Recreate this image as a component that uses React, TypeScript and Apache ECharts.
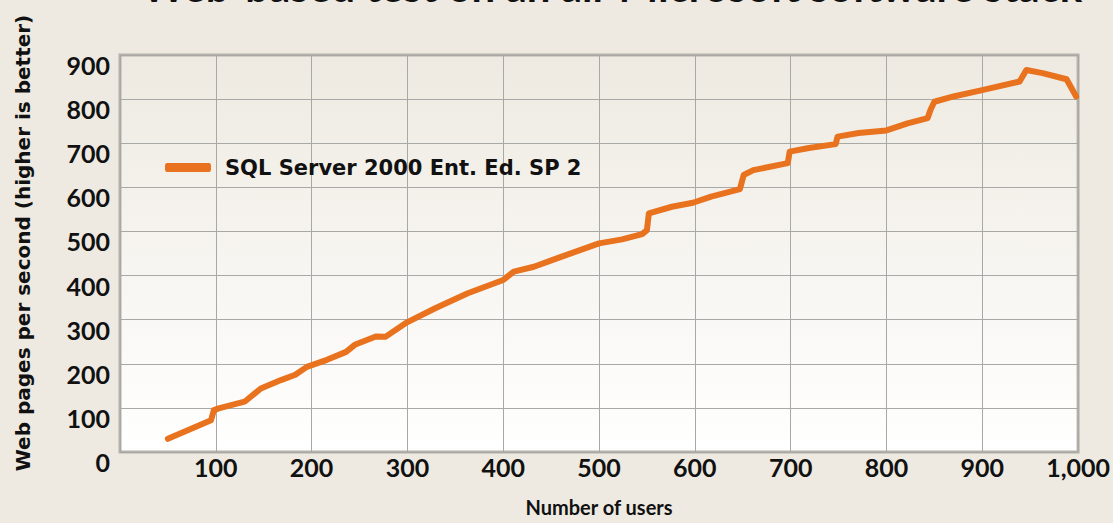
import React, { useEffect, useRef } from "react";
import * as echarts from "echarts";

const titleText = "Web-based test on an all-Microsoft software stack";
const seriesName = "SQL Server 2000 Ent. Ed. SP 2";
const yAxisTitle = "Web pages per second (higher is better)";
const xAxisTitle = "Number of users";

const users = [
  50, 95, 98, 103, 130, 147, 168, 183, 195, 216, 236, 245, 267, 277, 298, 329,
  363, 400, 411, 432, 456, 500, 524, 545, 550, 552, 576, 598, 617, 647, 651,
  661, 697, 699, 719, 747, 749, 771, 800, 822, 843, 846, 850, 870, 901, 939,
  946, 963, 988, 998,
];
const pagesPerSecond = [
  30, 72, 95, 99, 114, 144, 163, 175, 193, 209, 227, 243, 262, 261, 292, 326,
  360, 390, 409, 420, 439, 473, 482, 494, 503, 541, 556, 565, 579, 596, 628,
  639, 655, 681, 689, 698, 715, 723, 729, 745, 757, 776, 794, 806, 821, 840,
  866, 859, 845, 806,
];
const xTickLabels: Record<number, string> = {
  100: "100", 200: "200", 300: "300", 400: "400", 500: "500",
  600: "600", 700: "700", 800: "800", 900: "900", 1000: "1,000",
};

const FONT = "Lato, 'Liberation Sans', sans-serif";
const WIDE = "'DejaVu Sans', sans-serif";
const ORANGE = "#E8721E";

export default function App() {
  const ref = useRef<HTMLDivElement>(null);
  useEffect(() => {
    if (!ref.current) return;
    const chart = echarts.init(ref.current, null, { renderer: "svg" });
    const data = users.map((u, i) => [u, pagesPerSecond[i]]);
    chart.setOption({
      animation: false,
      backgroundColor: "#EEEAE1",
      textStyle: { fontFamily: FONT },
      grid: {
        left: 120,
        right: 20,
        top: 55,
        bottom: 71,
        show: true,
        borderWidth: 3,
        borderColor: "#B6B2AB",
        backgroundColor: {
          type: "linear", x: 0, y: 0, x2: 0, y2: 1,
          colorStops: [
            { offset: 0, color: "#EEEAE1" },
            { offset: 1, color: "#FFFFFF" },
          ],
        },
      },
      legend: {
        left: 160,
        top: 152,
        icon: "roundRect",
        itemWidth: 46,
        itemHeight: 9,
        itemGap: 10,
        textStyle: {
          fontFamily: WIDE,
          fontWeight: "bold",
          fontSize: 21,
          color: "#111",
          padding: [0, 0, 0, 9],
        },
        data: [seriesName],
      },
      graphic: [
        {
          type: "text",
          x: 612,
          y: -35,
          style: {
            text: titleText,
            fontFamily: FONT,
            fontWeight: "bold",
            fontSize: 42,
            fill: "#111",
            align: "center",
            verticalAlign: "top",
          },
        },
        {
          type: "text",
          x: 23,
          y: 243,
          rotation: Math.PI / 2,
          style: {
            text: yAxisTitle,
            fontFamily: WIDE,
            fontWeight: "bold",
            fontSize: 20,
            fill: "#111",
            align: "center",
            verticalAlign: "middle",
          },
        },
      ],
      xAxis: {
        type: "value",
        min: 0,
        max: 1000,
        interval: 100,
        name: xAxisTitle,
        nameLocation: "middle",
        nameGap: 45,
        nameTextStyle: { fontFamily: FONT, fontWeight: "bold", fontSize: 20, color: "#111" },
        axisLine: { show: false },
        axisTick: { show: false },
        axisLabel: {
          showMinLabel: false,
          margin: 2,
          fontFamily: FONT,
          fontWeight: "bold",
          fontSize: 25,
          color: "#111",
          formatter: (v: number) => xTickLabels[v] ?? "",
        },
        splitLine: { show: true, lineStyle: { color: "#A8A8A6", width: 1 } },
      },
      yAxis: {
        type: "value",
        min: 0,
        max: 900,
        interval: 100,
        axisLine: { show: false },
        axisTick: { show: false },
        axisLabel: {
          margin: 10,
          fontFamily: FONT,
          fontWeight: "bold",
          fontSize: 25,
          color: "#111",
          verticalAlign: "top",
          lineHeight: 20,
        },
        splitLine: { show: true, lineStyle: { color: "#A8A8A6", width: 1 } },
      },
      series: [
        {
          name: seriesName,
          type: "line",
          data,
          showSymbol: false,
          symbol: "none",
          color: ORANGE,
          lineStyle: { color: ORANGE, width: 6, cap: "round", join: "round" },
        },
      ],
    });
    return () => chart.dispose();
  }, []);
  return (
    <div
      ref={ref}
      style={{ position: "fixed", left: 0, top: 0, width: 1113, height: 523 }}
    />
  );
}
